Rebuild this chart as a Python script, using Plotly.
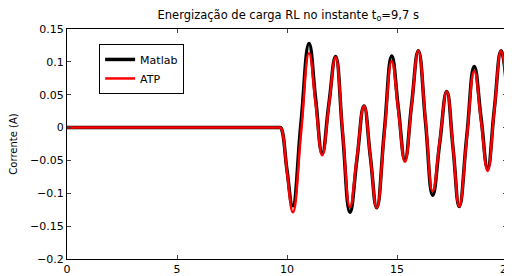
import plotly.graph_objects as go

# Time (s) and current (A)
t_matlab = [0, 5, 9.0, 9.6, 9.7, 9.78, 10.0, 10.26, 10.63, 11.0, 11.3, 11.6, 11.9, 12.21, 12.53, 12.86,
            13.18, 13.5, 13.79, 14.08, 14.42, 14.76, 15.06, 15.36, 15.66, 15.97, 16.3,
            16.62, 16.94, 17.26, 17.55, 17.83, 18.17, 18.51, 18.82, 19.12, 19.42, 19.73, 20]
i_matlab = [0, 0, 0, 0, 0, -0.005, -0.065, -0.119, 0.005, 0.128, 0.044, -0.039, 0.035, 0.108, -0.01,
            -0.129, -0.048, 0.033, -0.045, -0.122, -0.007, 0.109, 0.03, -0.049, 0.034,
            0.117, 0.007, -0.103, -0.024, 0.055, -0.032, -0.12, -0.014, 0.093, 0.015,
            -0.062, 0.027, 0.117, 0.055]

t_atp = [0, 5, 9.0, 9.6, 9.7, 9.78, 10.0, 10.27, 10.64, 11.0, 11.3, 11.6, 11.9, 12.21, 12.53, 12.86,
         13.18, 13.5, 13.79, 14.08, 14.42, 14.76, 15.06, 15.36, 15.66, 15.97, 16.3,
         16.62, 16.94, 17.26, 17.55, 17.83, 18.17, 18.51, 18.82, 19.12, 19.42, 19.73, 20]
i_atp = [0, 0, 0, 0, 0, -0.005, -0.068, -0.129, -0.008, 0.113, 0.036, -0.042, 0.032, 0.107, -0.007,
         -0.121, -0.044, 0.033, -0.045, -0.122, -0.011, 0.101, 0.025, -0.052, 0.032,
         0.117, 0.01, -0.097, -0.021, 0.055, -0.032, -0.12, -0.017, 0.086, 0.01,
         -0.066, 0.025, 0.117, 0.055]

x_ticks = [0, 5, 10, 15, 20]
y_ticks = [-0.2, -0.15, -0.1, -0.05, 0, 0.05, 0.1, 0.15]

fig = go.Figure()
fig.add_trace(go.Scatter(x=t_matlab, y=i_matlab, name="Matlab", mode="lines",
                         line=dict(color="black", width=3.5, shape="spline", smoothing=1.3)))
fig.add_trace(go.Scatter(x=t_atp, y=i_atp, name="ATP", mode="lines",
                         line=dict(color="#ff0000", width=2.5, shape="spline", smoothing=1.3)))

font_family = "DejaVu Sans, Liberation Sans, Arial, sans-serif"
fig.update_layout(
    width=504, height=268,
    margin=dict(l=59, r=5, t=21, b=17),
    paper_bgcolor="white", plot_bgcolor="white",
    font=dict(family=font_family, size=11, color="black"),
    title=dict(text="Energização de carga RL no instante t<sub>o</sub>=9,7 s",
               x=0.556, xanchor="center", y=0.974, yanchor="middle",
               font=dict(size=11.5, family=font_family)),
    showlegend=True,
    legend=dict(x=0.073, y=0.935, xanchor="left", yanchor="top",
                bordercolor="black", borderwidth=1, bgcolor="white",
                font=dict(size=11, family=font_family),
                tracegroupgap=0, entrywidth=72, entrywidthmode="pixels"),
    xaxis=dict(range=[0, 20], tickvals=x_ticks, ticks="inside", ticklen=4,
               showline=True, linecolor="black", linewidth=1, mirror="ticks",
               showgrid=False, zeroline=False, automargin=False,
               ticklabeloverflow="allow", tickfont=dict(size=11)),
    yaxis=dict(range=[-0.2, 0.15], tickvals=y_ticks, ticks="inside", ticklen=4,
               showline=True, linecolor="black", linewidth=1, mirror="ticks",
               showgrid=False, zeroline=False, automargin=False,
               tickfont=dict(size=11),
               title=dict(text="Corrente (A)", standoff=10, font=dict(size=10))),
    annotations=[dict(text="t (s)", xref="paper", yref="paper", x=0.5, y=-0.062,
                      xanchor="center", yanchor="top", showarrow=False,
                      font=dict(size=10, family=font_family))],
)

fig.write_html("out.html")
